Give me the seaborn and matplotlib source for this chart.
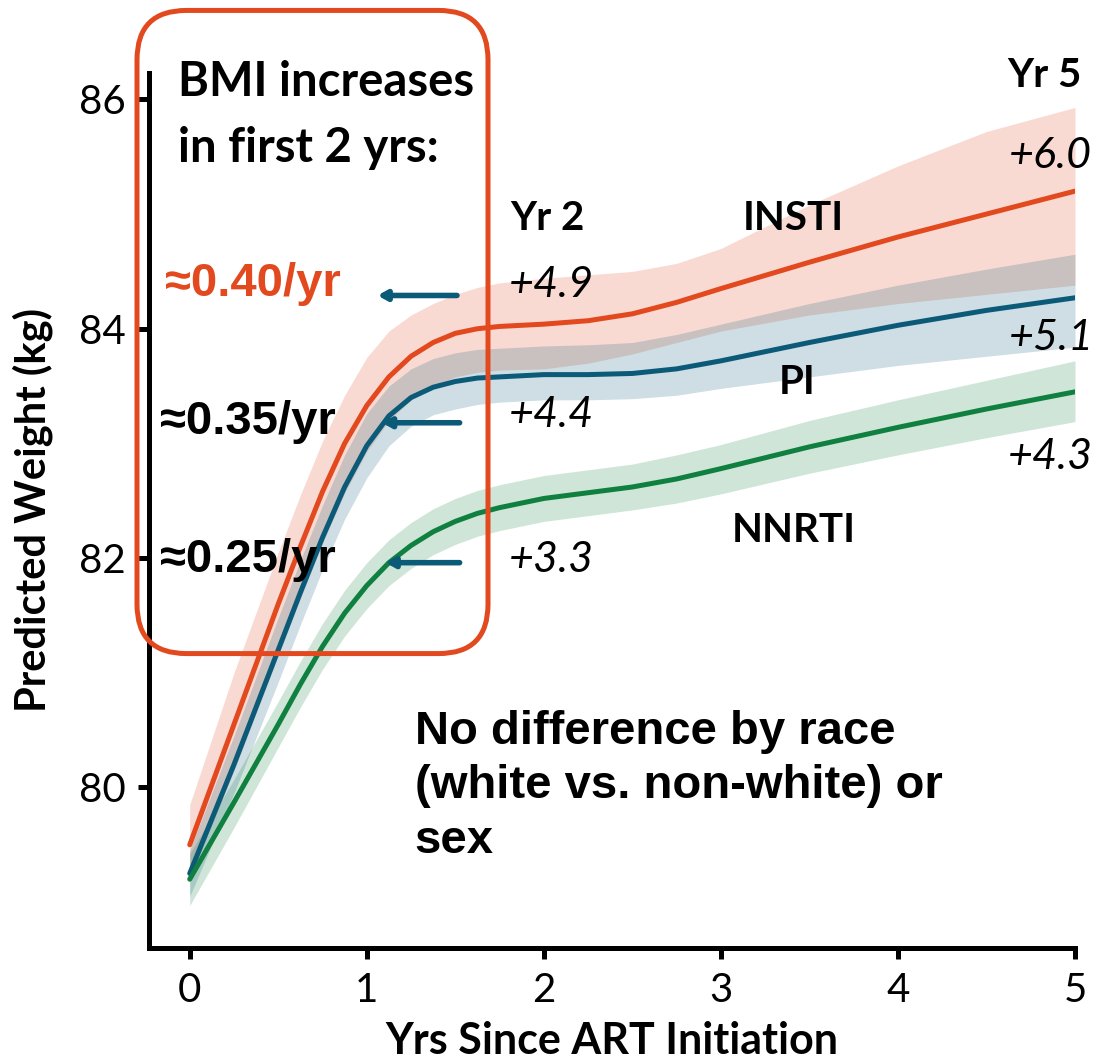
import numpy as np
import pandas as pd
import matplotlib.pyplot as plt
import seaborn as sns
from matplotlib.patches import FancyBboxPatch

# years since ART initiation
yrs = [0, 0.25, 0.5, 0.625, 0.75, 0.875, 1.0, 1.125, 1.25, 1.375, 1.5, 1.625, 1.75,
       2.0, 2.25, 2.5, 2.75, 3.0, 3.5, 4.0, 4.5, 5.0]

# predicted weight (kg) + confidence band per regimen
insti = [79.5, 80.55, 81.6, 82.1, 82.58, 83.0, 83.33, 83.58, 83.76, 83.88, 83.96, 84.0, 84.02,
         84.04, 84.07, 84.13, 84.23, 84.35, 84.58, 84.8, 85.0, 85.2]
insti_hi = [79.85, 81.0, 82.05, 82.55, 83.02, 83.42, 83.75, 83.98, 84.12, 84.22, 84.3, 84.36, 84.4,
            84.44, 84.47, 84.5, 84.57, 84.7, 85.08, 85.42, 85.72, 85.93]
insti_lo = [79.2, 80.15, 81.15, 81.65, 82.13, 82.57, 82.93, 83.2, 83.38, 83.5, 83.58, 83.62, 83.64,
            83.65, 83.7, 83.78, 83.88, 83.98, 84.12, 84.22, 84.3, 84.38]

pi = [79.25, 80.2, 81.2, 81.7, 82.18, 82.62, 82.98, 83.24, 83.4, 83.49, 83.54, 83.57, 83.58,
      83.6, 83.6, 83.61, 83.65, 83.72, 83.88, 84.03, 84.16, 84.27]
pi_hi = [79.45, 80.45, 81.48, 81.98, 82.46, 82.9, 83.26, 83.5, 83.65, 83.74, 83.79, 83.82, 83.83,
         83.85, 83.86, 83.88, 83.95, 84.04, 84.22, 84.38, 84.52, 84.65]
pi_lo = [79.05, 79.95, 80.92, 81.42, 81.9, 82.34, 82.7, 82.98, 83.15, 83.25, 83.3, 83.34, 83.36,
         83.38, 83.38, 83.39, 83.42, 83.48, 83.58, 83.68, 83.76, 83.84]

nnrti = [79.2, 79.87, 80.55, 80.9, 81.23, 81.52, 81.76, 81.96, 82.11, 82.23, 82.32, 82.39, 82.44,
         82.52, 82.57, 82.62, 82.69, 82.78, 82.97, 83.14, 83.3, 83.45]
nnrti_hi = [79.42, 80.07, 80.75, 81.1, 81.43, 81.72, 81.96, 82.16, 82.31, 82.43, 82.52, 82.59, 82.64,
            82.72, 82.77, 82.82, 82.9, 82.99, 83.2, 83.38, 83.55, 83.72]
nnrti_lo = [78.97, 79.65, 80.35, 80.7, 81.03, 81.32, 81.56, 81.76, 81.91, 82.03, 82.12, 82.19, 82.24,
            82.32, 82.37, 82.42, 82.48, 82.56, 82.74, 82.9, 83.05, 83.19]

regimens = ['INSTI', 'PI', 'NNRTI']
colors = {'INSTI': '#E2491F', 'PI': '#0B5A78', 'NNRTI': '#0F8040'}

df = pd.concat([
    pd.DataFrame({'yrs': yrs, 'weight': insti, 'drug': 'INSTI'}),
    pd.DataFrame({'yrs': yrs, 'weight': pi, 'drug': 'PI'}),
    pd.DataFrame({'yrs': yrs, 'weight': nnrti, 'drug': 'NNRTI'}),
])

sns.set_style('ticks')
plt.rcParams['font.family'] = ['Lato', 'DejaVu Sans']
for k in ['text.color', 'axes.labelcolor', 'xtick.color', 'ytick.color', 'axes.edgecolor']:
    plt.rcParams[k] = 'black'

fig = plt.figure(figsize=(10.97, 10.62), dpi=100)
ax = fig.add_axes([149/1097, 1-948/1062, (1075-149)/1097, (948-73)/1062])

# bands first, then lines on top
ax.fill_between(yrs, insti_lo, insti_hi, color=colors['INSTI'], alpha=0.2, lw=0)
ax.fill_between(yrs, pi_lo, pi_hi, color=colors['PI'], alpha=0.2, lw=0)
ax.fill_between(yrs, nnrti_lo, nnrti_hi, color=colors['NNRTI'], alpha=0.2, lw=0)

sns.lineplot(data=df, x='yrs', y='weight', hue='drug', hue_order=regimens,
             palette=colors, linewidth=3.6, legend=False, ax=ax)

ax.set_xlim(-0.23, 5.0)
ax.set_ylim(78.6, 86.23)
ax.set_xticks([0, 1, 2, 3, 4, 5])
ax.set_yticks([80, 82, 84, 86])
sns.despine(ax=ax)
for s in ['left', 'bottom']:
    ax.spines[s].set_linewidth(3.6)
ax.tick_params(width=3.6, length=8, labelsize=29, pad=9)

ax.set_xlabel('Yrs Since ART Initiation', fontsize=31, fontweight='bold')
ax.set_ylabel('Predicted Weight (kg)', fontsize=30, fontweight='bold')
ax.xaxis.set_label_coords(0.5, -0.083)
ax.yaxis.set_label_coords(-0.104, 0.5)

# rounded callout box
box = FancyBboxPatch((137/1097 + 0.045, 1-652/1062 + 0.045),
                     (488-137)/1097 - 0.09, (652-12)/1062 - 0.09,
                     boxstyle='round,pad=0.045', transform=fig.transFigure,
                     fill=False, ec='#E2491F', lw=3.6, zorder=10,
                     mutation_aspect=1097/1062)
fig.patches.append(box)

bmi = dict(fontweight='bold', fontsize=34, clip_on=False)
ax.text(-0.068, 86.15, 'BMI increases', ha='left', va='center', **bmi)
ax.text(-0.068, 85.58, 'in first 2 yrs:', ha='left', va='center', **bmi)

arial = dict(family=['Liberation Sans', 'DejaVu Sans'], fontweight='bold', fontsize=34, clip_on=False)
ax.text(-0.141, 84.39, '≈0.40/yr', ha='left', va='center', color='#E2491F', **arial)
ax.text(-0.17, 83.19, '≈0.35/yr', ha='left', va='center', **arial)
ax.text(-0.17, 81.98, '≈0.25/yr', ha='left', va='center', **arial)

arrow = dict(arrowstyle='-|>,head_length=0.5,head_width=0.28', color='#0B5A78', lw=4)
ax.annotate('', xy=(1.045, 84.29), xytext=(1.525, 84.29), arrowprops=arrow)
ax.annotate('', xy=(1.07, 83.18), xytext=(1.54, 83.18), arrowprops=arrow)
ax.annotate('', xy=(1.09, 81.96), xytext=(1.54, 81.96), arrowprops=arrow)

bold = dict(fontweight='bold', fontsize=29, clip_on=False)
ax.text(1.81, 84.96, 'Yr 2', ha='left', va='center', **bold)
ax.text(4.83, 86.21, 'Yr 5', ha='center', va='center', **bold)
ax.text(3.41, 84.96, 'INSTI', ha='center', va='center', **bold)
ax.text(3.43, 83.53, 'PI', ha='center', va='center', **bold)
ax.text(3.41, 82.24, 'NNRTI', ha='center', va='center', **bold)

ital = dict(style='italic', fontsize=31, clip_on=False)
ax.text(1.8, 84.38, '+4.9', ha='left', va='center', **ital)
ax.text(1.8, 83.245, '+4.4', ha='left', va='center', **ital)
ax.text(1.8, 81.98, '+3.3', ha='left', va='center', **ital)
ax.text(4.86, 85.51, '+6.0', ha='center', va='center', **ital)
ax.text(4.865, 83.92, '+5.1', ha='center', va='center', **ital)
ax.text(4.86, 82.88, '+4.3', ha='center', va='center', **ital)

ax.text(1.27, 80.01, 'No difference by race\n(white vs. non-white) or\nsex', ha='left', va='center',
        linespacing=1.3, **arial)

fig.savefig('out.png', dpi=100)
